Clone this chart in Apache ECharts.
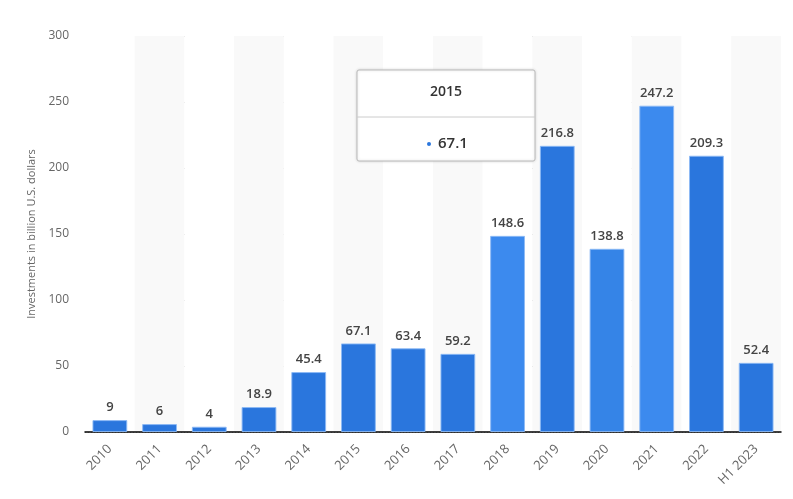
<!DOCTYPE html>
<html>
<head>
<meta charset="utf-8">
<script src="https://cdn.jsdelivr.net/npm/echarts@6/dist/echarts.min.js"></script>
<style>
  html, body { margin: 0; padding: 0; background: #fff; }
  #chart { width: 793px; height: 499px; }
</style>
</head>
<body>
<div id="chart"></div>
<script>
const categories = ['2010', '2011', '2012', '2013', '2014', '2015', '2016', '2017', '2018', '2019', '2020', '2021', '2022', 'H1 2023']
const values = [9, 6, 4, 18.9, 45.4, 67.1, 63.4, 59.2, 148.6, 216.8, 138.8, 247.2, 209.3, 52.4]
// a few bars are drawn lighter in the picture
const barColors = ['#2a76dd', '#2a76dd', '#2a76dd', '#2a76dd', '#2a76dd', '#2a76dd', '#2a76dd', '#2a76dd', '#3c8aee', '#2a76dd', '#3584e7', '#3c8aee', '#2a76dd', '#2a76dd']
const yTicks = [0, 50, 100, 150, 200, 250, 300]
const tipIndex = 5

const chart = echarts.init(document.getElementById('chart'))
const font = '"Open Sans", "DejaVu Sans", sans-serif'

const option = {
  backgroundColor: '#fff',
  animation: false,
  grid: {
    left: 85,
    right: 12,
    top: 36,
    bottom: 67
  },
  xAxis: {
    type: 'category',
    data: categories,
    axisLine: {
      lineStyle: { color: '#000', width: 1.5 }
    },
    axisTick: { show: false },
    axisLabel: {
      rotate: 45,
      color: '#666',
      fontSize: 13,
      fontFamily: font,
      margin: 15,
      interval: 0
    },
    splitArea: {
      show: true,
      areaStyle: { color: ['#fff', '#f9f9f9'] }
    }
  },
  yAxis: {
    type: 'value',
    min: yTicks[0],
    max: yTicks[yTicks.length - 1],
    interval: 50,
    name: 'Investments in billion U.S. dollars',
    nameLocation: 'middle',
    nameGap: 44,
    nameTextStyle: {
      color: '#666',
      fontSize: 11,
      fontFamily: font
    },
    axisLine: { show: false },
    axisTick: { show: false },
    axisLabel: {
      color: '#666',
      fontSize: 12,
      fontFamily: font,
      margin: 16
    },
    splitLine: {
      lineStyle: { color: '#bbb', type: [1, 2], width: 1 }
    }
  },
  series: [{
    type: 'bar',
    barWidth: '70%',
    data: values.map((v, i) => ({
      value: v,
      itemStyle: { color: barColors[i] }
    })),
    itemStyle: {
      borderColor: 'rgba(140,185,245,0.9)',
      borderWidth: 1
    },
    label: {
      show: true,
      position: 'top',
      distance: 6,
      color: '#444',
      fontSize: 13,
      fontWeight: 600,
      fontFamily: font
    }
  }],
  graphic: {
    elements: [
      {
        type: 'rect',
        x: 357,
        y: 70,
        z: 100,
        shape: { x: 0, y: 0, width: 178, height: 91, r: 2 },
        style: { fill: '#fff', stroke: '#bbb', lineWidth: 1, shadowBlur: 3, shadowColor: 'rgba(0,0,0,0.15)' }
      },
      {
        type: 'line',
        z: 101,
        shape: { x1: 357, y1: 117, x2: 535, y2: 117 },
        style: { stroke: '#ccc', lineWidth: 1 }
      },
      {
        type: 'text',
        x: 446,
        y: 92,
        z: 101,
        style: {
          text: categories[tipIndex],
          align: 'center',
          verticalAlign: 'middle',
          fill: '#333',
          fontSize: 14,
          fontWeight: 600,
          fontFamily: font
        }
      },
      {
        type: 'circle',
        z: 101,
        shape: { cx: 429, cy: 144, r: 2 },
        style: { fill: '#2a76dd' }
      },
      {
        type: 'text',
        x: 438,
        y: 144,
        z: 101,
        style: {
          text: String(values[tipIndex]),
          align: 'left',
          verticalAlign: 'middle',
          fill: '#333',
          fontSize: 15,
          fontWeight: 600,
          fontFamily: font
        }
      }
    ]
  }
}

chart.setOption(option)
</script>
</body>
</html>
